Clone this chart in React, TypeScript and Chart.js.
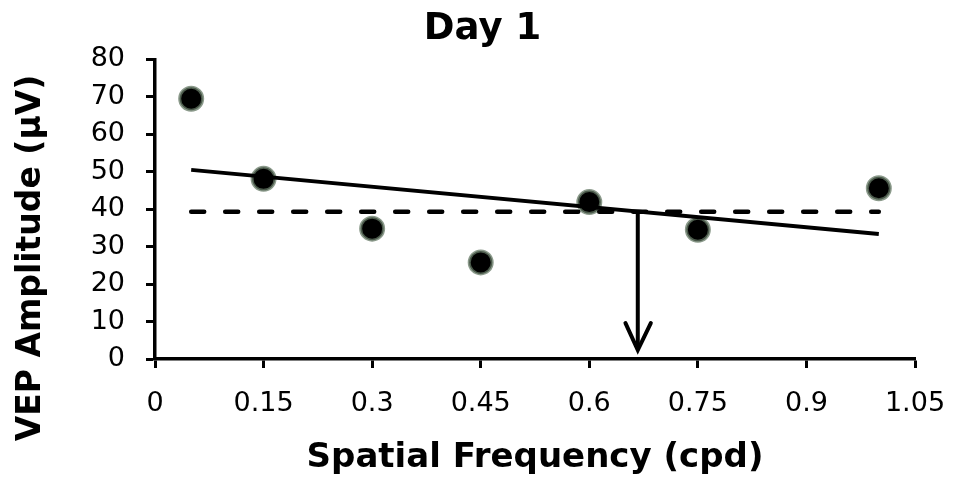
import React, { useEffect, useRef } from "react";
import { Chart, registerables } from "chart.js";

Chart.register(...registerables);

const spatialFreq = [0.05, 0.15, 0.3, 0.45, 0.6, 0.75, 1.0];
const vepAmplitude = [69.5, 48.1, 34.8, 25.8, 41.9, 34.5, 45.6];
const trendX = [0.05, 1.0];
const trendY = [50.5, 33.4];
const thresholdX = [0.05, 1.0];
const thresholdY = [39.3, 39.3];
const arrowShaftX = [0.667, 0.667];
const arrowShaftY = [39.3, 2.6];
const arrowHeadX = [0.650, 0.667, 0.685];
const arrowHeadY = [9.6, 2.4, 9.6];
const xTickValues = [0, 0.15, 0.3, 0.45, 0.6, 0.75, 0.9, 1.05];
const xTickLabels = ["0", "0.15", "0.3", "0.45", "0.6", "0.75", "0.9", "1.05"];
const yTickValues = [0, 10, 20, 30, 40, 50, 60, 70, 80];
const titleText = "Day 1";
const xTitle = "Spatial Frequency (cpd)";
const yTitle = "VEP Amplitude (\u03bcV)";

const FONT = "'DejaVu Sans', sans-serif";

const pts = (xs: number[], ys: number[]) => xs.map((x, i) => ({ x, y: ys[i] }));

export default function App() {
  const ref = useRef<HTMLCanvasElement | null>(null);
  useEffect(() => {
    if (!ref.current) return;
    const yTitlePlugin = {
      id: "yTitlePlugin",
      afterDraw(chart: any) {
        const ctx = chart.ctx;
        ctx.save();
        ctx.translate(31, 258);
        ctx.rotate(-Math.PI / 2);
        ctx.textAlign = "center";
        ctx.textBaseline = "middle";
        ctx.fillStyle = "#000";
        ctx.font = `bold 33px ${FONT}`;
        ctx.fillText(yTitle, 0, 0);
        ctx.restore();
      },
    };
    const lineDs = (label: string, data: any[], extra: any = {}) => ({
      label,
      type: "line" as const,
      data,
      borderColor: "#000",
      borderWidth: 4,
      pointRadius: 0,
      showLine: true,
      fill: false,
      ...extra,
    });
    const chart = new Chart(ref.current, {
      type: "scatter",
      data: {
        datasets: [
          lineDs("trend", pts(trendX, trendY)),
          lineDs("threshold", pts(thresholdX, thresholdY), {
            borderDash: [13, 21],
            borderCapStyle: "round",
            borderWidth: 4.5,
          }),
          lineDs("arrow", pts(arrowShaftX, arrowShaftY), { borderWidth: 4 }),
          lineDs("arrowHead", pts(arrowHeadX, arrowHeadY), {
            borderWidth: 4,
            borderCapStyle: "round",
            borderJoinStyle: "miter",
          }),
          {
            label: "VEP",
            data: pts(spatialFreq, vepAmplitude),
            backgroundColor: "#000",
            borderColor: "rgba(100,120,100,0.75)",
            borderWidth: 3,
            pointRadius: 11.5,
            pointHoverRadius: 11.5,
          },
        ],
      },
      options: {
        responsive: false,
        animation: false,
        layout: { padding: { left: 12, right: 0, top: 0, bottom: 0 } },
        plugins: {
          legend: { display: false },
          tooltip: { enabled: false },
          title: {
            display: true,
            text: titleText,
            color: "#000",
            font: { family: FONT, size: 37, weight: "bold" },
            padding: { top: 7, bottom: 8 },
          },
        },
        scales: {
          x: {
            type: "linear",
            min: 0,
            max: 1.05,
            afterBuildTicks: (s: any) => {
              s.ticks = xTickValues.map((v) => ({ value: v }));
            },
            afterFit: (s: any) => {
              s.height = 127;
              s.paddingRight = 38;
            },
            ticks: {
              color: "#000",
              font: { family: FONT, size: 27 },
              padding: 20,
              maxRotation: 0,
              autoSkip: false,
              callback: (v: any) => {
                const i = xTickValues.findIndex((t) => Math.abs(t - v) < 1e-9);
                return i >= 0 ? xTickLabels[i] : "";
              },
            },
            grid: {
              drawOnChartArea: false,
              drawTicks: true,
              tickLength: 9,
              tickWidth: 3,
              tickColor: "#000",
            },
            border: { color: "#000", width: 3.5 },
            title: {
              display: true,
              text: xTitle,
              color: "#000",
              font: { family: FONT, size: 34, weight: "bold" },
              padding: { top: 0, bottom: 7 },
            },
          },
          y: {
            min: 0,
            max: 80,
            afterBuildTicks: (s: any) => {
              s.ticks = yTickValues.map((v) => ({ value: v }));
            },
            afterFit: (s: any) => {
              s.width = 143;
            },
            ticks: {
              color: "#000",
              font: { family: FONT, size: 27 },
              padding: 21,
            },
            grid: {
              drawOnChartArea: false,
              drawTicks: true,
              tickLength: 9,
              tickWidth: 3,
              tickColor: "#000",
            },
            border: { color: "#000", width: 3.5 },
          },
        },
      },
      plugins: [yTitlePlugin],
    } as any);
    return () => chart.destroy();
  }, []);
  return (
    <div style={{ position: "fixed", left: 0, top: 0, width: 953, height: 486, background: "#fff" }}>
      <canvas ref={ref} width={953} height={486} />
    </div>
  );
}
